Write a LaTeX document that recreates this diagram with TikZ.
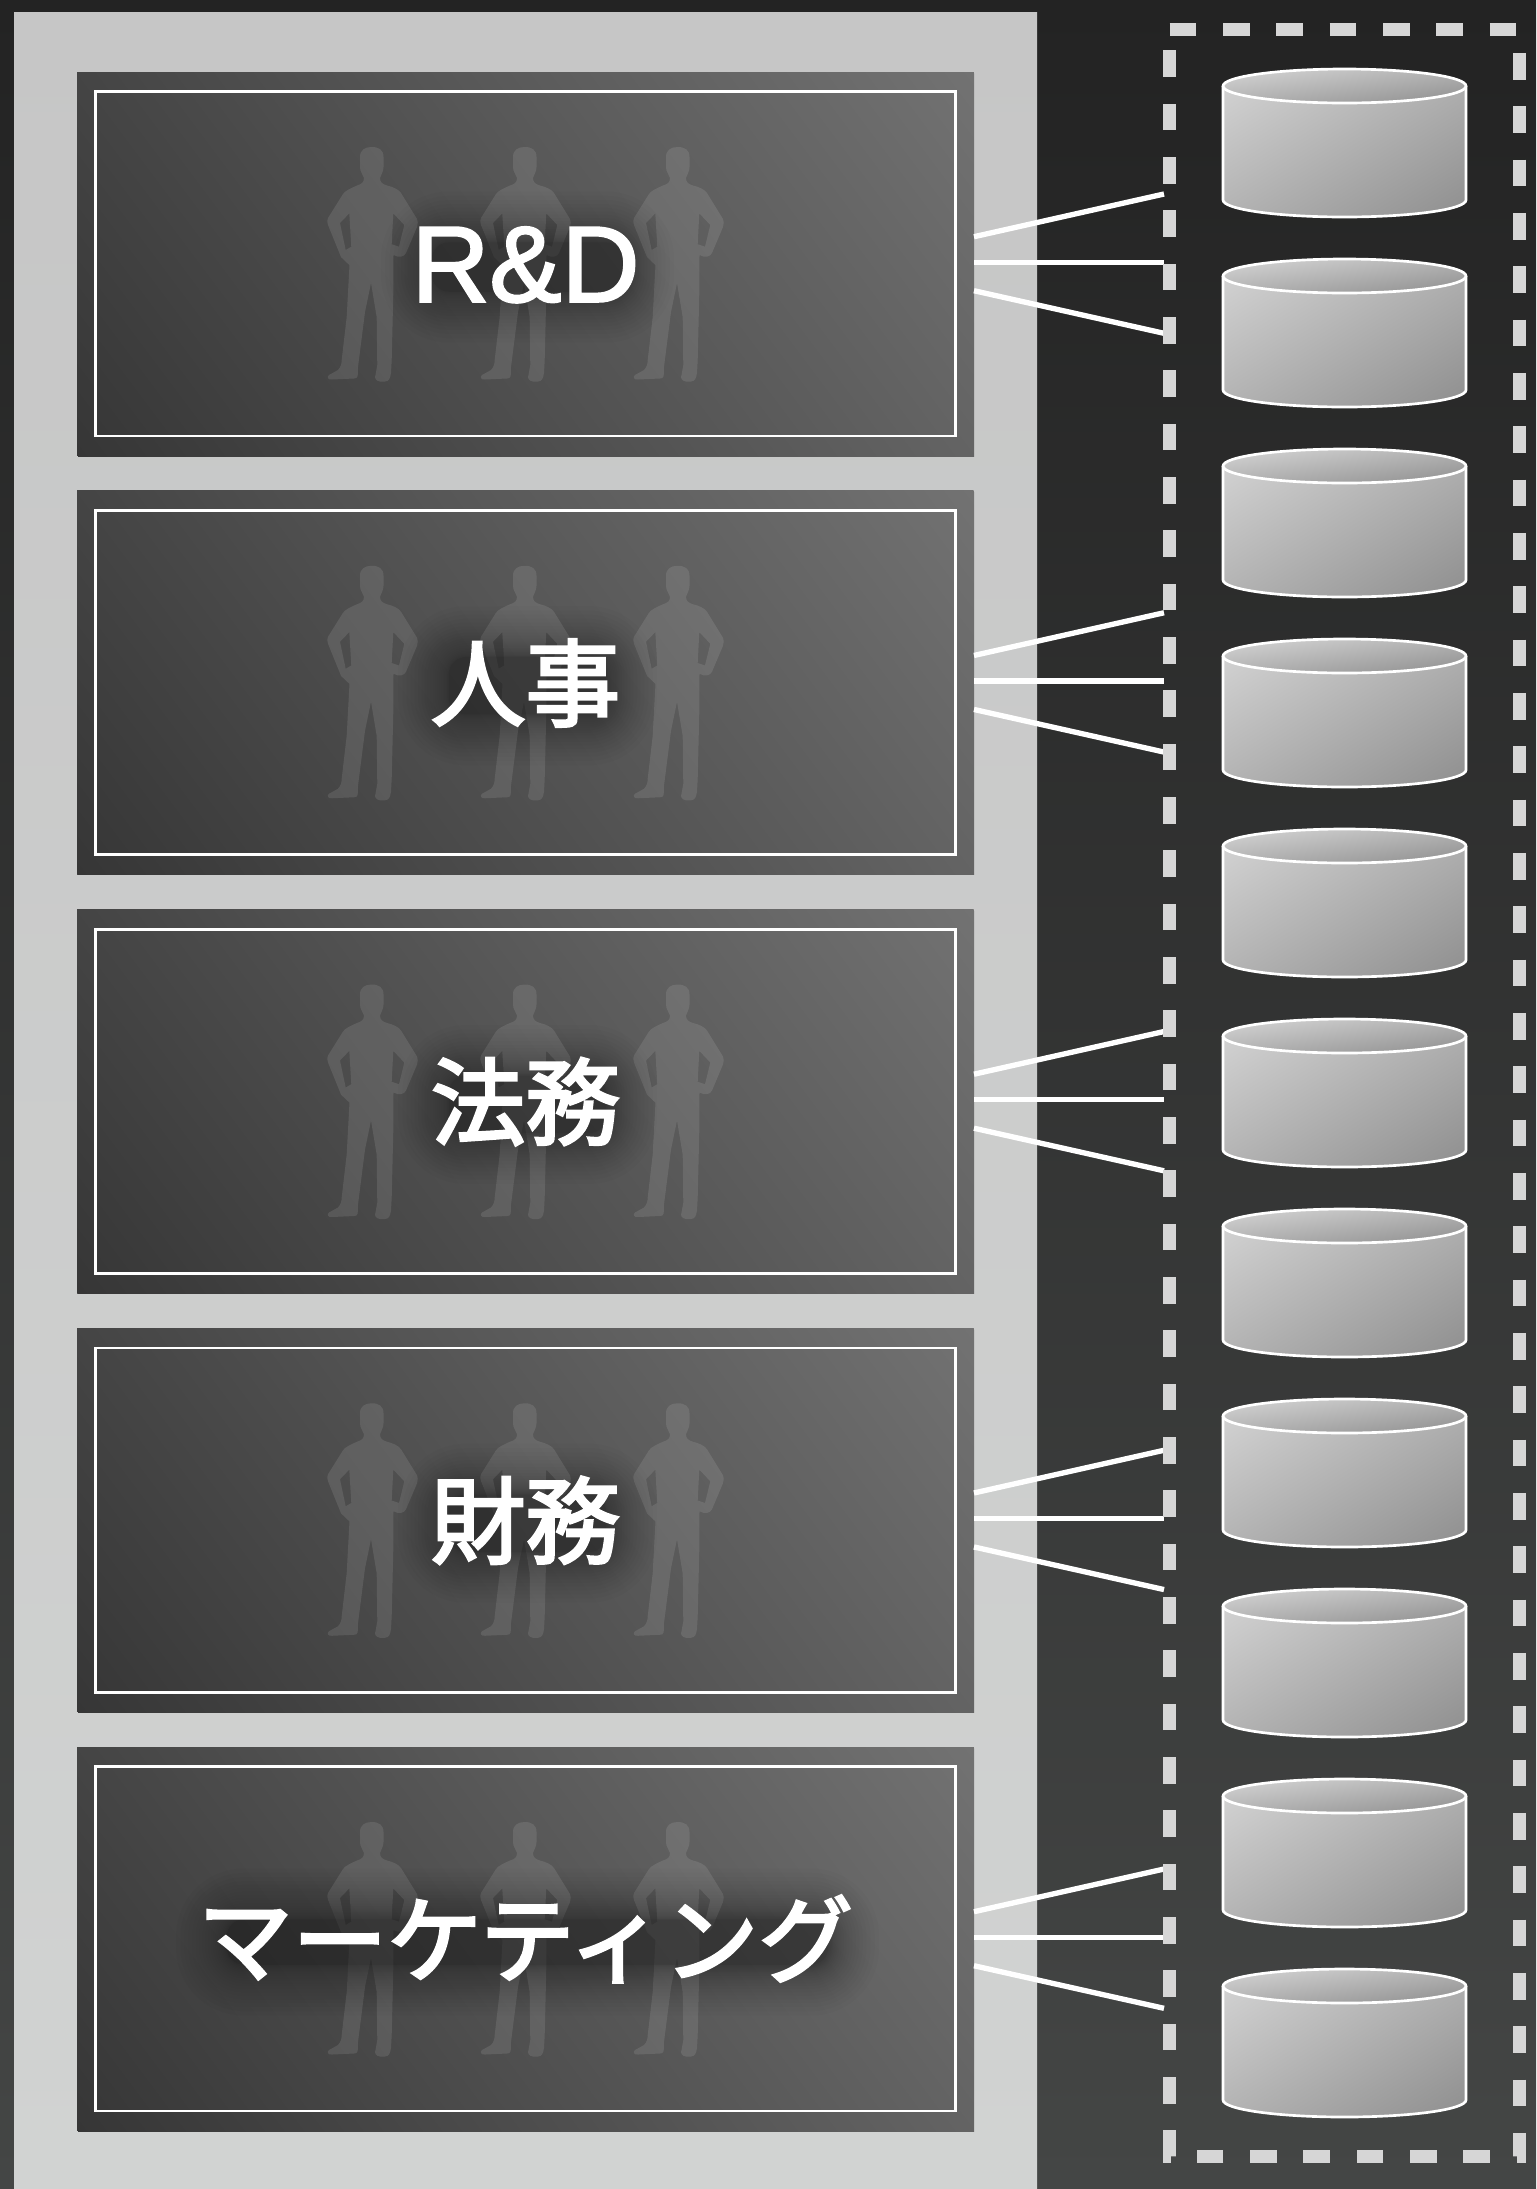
\documentclass[tikz,border=0pt]{standalone}
\usepackage{fontspec}
\usetikzlibrary{calc}
\setmainfont[FakeBold=2]{Liberation Sans}
\newfontfamily\cjkfont[FakeBold=3]{Noto Sans CJK JP}
\newcommand\rdfont{\fontsize{81pt}{90pt}\selectfont}
\newcommand\jpfont{\cjkfont\fontsize{71pt}{90pt}\selectfont}
\definecolor{gA}{HTML}{363636}\definecolor{gB}{HTML}{727272}
\definecolor{cA}{HTML}{8E8E8E}\definecolor{cB}{HTML}{D6D6D6}
\definecolor{bgT}{HTML}{232323}\definecolor{bgB}{HTML}{444645}
\definecolor{pnT}{HTML}{C6C6C6}\definecolor{pnB}{HTML}{D1D3D2}
\pgfdeclareverticalshading{deptgrad}{100bp}{color(0bp)=(gA);color(100bp)=(gB)}
\pgfdeclareverticalshading{cylgrad}{100bp}{color(0bp)=(cA);color(100bp)=(cB)}
\tikzset{
  deptnode/.style={minimum width=672.75pt,minimum height=288pt,inner sep=0pt,outer sep=0pt},
  innerframe/.style={draw=white,line width=2pt},
  wire/.style={draw=white,line width=4pt},
  storeline/.style={draw=dashcol,line width=10pt,dash pattern=on 20pt off 20pt},
  cyledge/.style={draw=white,line width=2pt,line join=miter},
  personfill/.style={fill=white,fill opacity=0.1,even odd rule},
  label/.style={text=white,anchor=base,inner sep=0pt}
}
\definecolor{dashcol}{HTML}{D6D6D6}
\newcommand\personshape{
  (44.7,0) .. controls (52,0) and (56.5,3) .. (56.5,10)
  -- (56.5,20) .. controls (56.5,25) and (54,27) .. (53,31)
  .. controls (53,35) and (55,37) .. (60,38.5)
  .. controls (66,40) and (71,42) .. (74,46)
  -- (90,72) .. controls (91,74) and (91,77) .. (90,80)
  -- (79,106) .. controls (77,110) and (72,111) .. (66.5,108)
  -- (66.3,146) -- (64.7,213) -- (64,226) .. controls (63,232) and (62,234) .. (58,234.5)
  -- (53,234.5) .. controls (49,234) and (47,231) .. (48.5,228)
  -- (50.3,218) -- (49.7,170) -- (44,136) -- (38,165) -- (31,220) -- (30.7,229)
  .. controls (30,231) and (29,231.5) .. (27,231.5) -- (5,232.5)
  .. controls (1,233) and (-0.5,230) .. (2,228) -- (11,223)
  .. controls (14,220) and (14.7,216) .. (14.7,213) -- (19.7,170) -- (22.5,118)
  .. controls (20,116) and (16,112) .. (14,110) -- (1,78)
  .. controls (0,75) and (0,73) .. (1,71) -- (16,47)
  .. controls (18,44) and (24,41) .. (30,38.5)
  .. controls (35,37) and (37,35) .. (37,31)
  .. controls (36,27) and (33,25) .. (33,20) -- (33,10)
  .. controls (33,3) and (38,0) .. (44.7,0) -- cycle
  (22.3,66.3) -- (13,76) -- (18.7,103) -- (24.3,99.7) -- cycle
  (66.3,66.3) -- (77.3,78) -- (72,99.7) -- (64.7,97.3) -- cycle
}
\begin{document}
\begin{tikzpicture}[x=0.75pt,y=-0.75pt]
\useasboundingbox (0,0) rectangle (1536,2189);
% background and panel
\shade[top color=bgT,bottom color=bgB] (0,0) rectangle (1536,2189);
\shade[top color=pnT,bottom color=pnB] (14,12) rectangle (1037,2189);
% departments
\foreach \i/\hx/\hy/\lab in {
  0/95/24/{\rdfont R\&D},
  1/78/28/{\jpfont 人事},
  2/78/28/{\jpfont 法務},
  3/78/28/{\jpfont 財務},
  4/300/22/{\jpfont マーケティング}}{
  \pgfmathsetmacro\cy{264+418.75*\i}
  \node[deptnode] (d\i) at (525.5,\cy) {};
  \begin{scope}
    \clip (d\i.south west) rectangle (d\i.north east);
    \begin{scope}[shift={(525.5,\cy)},rotate=-53.13,xscale=11,yscale=7.08]
      \pgflowlevelsynccm
      \pgftext{\pgfuseshading{deptgrad}}
    \end{scope}
  \end{scope}
  \draw[innerframe] ($(d\i.center)+(-430.3,-172.3)$) rectangle ($(d\i.center)+(430,172)$);
  \foreach \px in {327,480,633}{
    \begin{scope}[shift={(\px,\cy-117)}]
      \fill[personfill] \personshape;
    \end{scope}
  }
  \foreach \k in {1,...,24}{
    \pgfmathsetmacro\ee{56*(1-\k/24)^2}
    \pgfmathsetmacro\rr{(\ee+16)*0.75}
    \fill[black,fill opacity=0.014,rounded corners=\rr pt]
      ($(d\i.center)+(2-\hx-\ee,3-\hy-\ee)$) rectangle ($(d\i.center)+(2+\hx+\ee,3+\hy+\ee)$);
  }
  \ifnum\i=0
    \node[label] (l\i) at ($(d\i.center)+(0,37.7)$) {\lab};
  \else
    \node[label] (l\i) at ($(d\i.center)+(0,36)$) {\lab};
  \fi
  \coordinate (ea\i) at ($(d\i.east)+(190,-70)$);
  \coordinate (eb\i) at ($(d\i.east)+(190,-1.7)$);
  \coordinate (ec\i) at ($(d\i.east)+(190,69.3)$);
  \draw[wire] ($(d\i.east)+(0,-27.3)$) -- (ea\i);
  \draw[wire] ($(d\i.east)+(0,-1.7)$) -- (eb\i);
  \draw[wire] ($(d\i.east)+(0,26.7)$) -- (ec\i);
}
% cylinders
\foreach \j in {0,...,10}{
  \pgfmathsetmacro\ty{86+190*\j}
  \pgfmathsetmacro\by{200+190*\j}
  \pgfmathsetmacro\my{(\ty+\by)/2}
  \begin{scope}
    \clip (1223,\ty) -- (1223,\by) arc[start angle=180,end angle=360,x radius=121.5,y radius=-17]
      -- (1466,\ty) arc[start angle=0,end angle=180,x radius=121.5,y radius=-17] -- cycle;
    \begin{scope}[shift={(1344.5,\my)},rotate=31.7,xscale=4,yscale=1.906]
      \pgflowlevelsynccm
      \pgftext{\pgfuseshading{cylgrad}}
    \end{scope}
  \end{scope}
  \begin{scope}
    \clip (1344.5,\ty) ellipse[x radius=121.5,y radius=17];
    \begin{scope}[shift={(1344.5,\ty)},rotate=8,xscale=3,yscale=0.505]
      \pgflowlevelsynccm
      \pgftext{\pgfuseshading{cylgrad}}
    \end{scope}
  \end{scope}
  \draw[cyledge] (1223,\ty) -- (1223,\by) arc[start angle=180,end angle=360,x radius=121.5,y radius=-17]
      -- (1466,\ty);
  \draw[cyledge] (1344.5,\ty) ellipse[x radius=121.5,y radius=17];
}
% dashed storage boundary
\coordinate (sa) at (1169.7,29.3);
\coordinate (sb) at (1519.5,29.3);
\coordinate (sc) at (1519.5,2156.6);
\coordinate (sd) at (1169.7,2156.6);
\draw[storeline] (sa) -- (sb) -- (sc) -- (sd) -- cycle;
\end{tikzpicture}
\end{document}
